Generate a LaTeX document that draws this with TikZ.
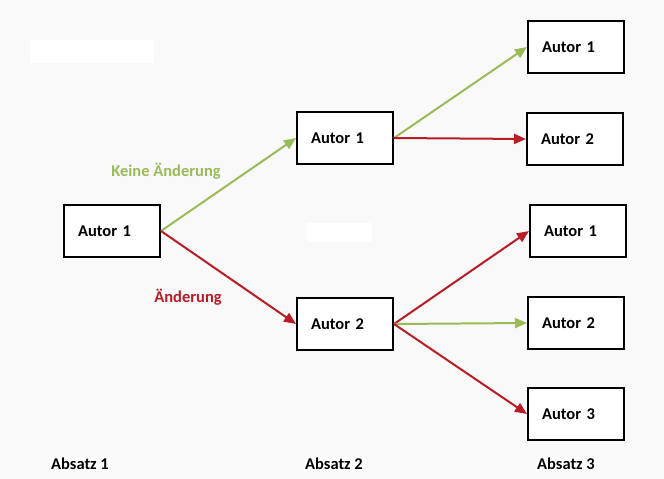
\documentclass[tikz,border=0pt]{standalone}
\usepackage{fontspec}
\setmainfont{Carlito}
\usetikzlibrary{arrows.meta}
\definecolor{bgc}{HTML}{F9F9F9}
\definecolor{okgreen}{HTML}{9BBB59}
\definecolor{chred}{HTML}{B81C26}
\begin{document}
\begin{tikzpicture}[x=1pt,y=-1pt,
  autor/.style={draw=black, line width=2pt, fill=white, minimum height=52pt,
    text width=68pt, inner xsep=14pt, inner ysep=0pt, align=left, anchor=north west,
    font=\bfseries\fontsize{16.5}{19}\selectfont},
  lbl/.style={font=\bfseries\fontsize{16.5}{19}\selectfont, inner sep=1pt},
  conn/.style={line width=2pt, -{Triangle[length=12pt,width=10pt]}},
  keep/.style={conn, draw=okgreen},
  change/.style={conn, draw=chred}]
\useasboundingbox (0,0) rectangle (664,479);
\fill[bgc] (0,0) rectangle (664,479);
\fill[white] (30,40) rectangle (154,63);
\fill[white] (307,223) rectangle (372,242);

\node[autor] (a1) at (63,204) {Autor 1};
\node[autor] (b1) at (296,111) {Autor 1};
\node[autor] (b2) at (296,297) {Autor 2};
\node[autor] (c1) at (527,20) {Autor 1};
\node[autor] (c2) at (526,112) {Autor 2};
\node[autor] (c3) at (529,204) {Autor 1};
\node[autor] (c4) at (527,296) {Autor 2};
\node[autor] (c5) at (527,387) {Autor 3};

\draw[keep] (a1.east) -- (b1.west);
\draw[change] (a1.east) -- (b2.west);
\draw[keep] (b1.east) -- (c1.west);
\draw[change] (b1.east) -- (c2.west);
\draw[change] (b2.east) -- (c3.west);
\draw[keep] (b2.east) -- (c4.west);
\draw[change] (b2.east) -- (c5.west);

\node[lbl, text=okgreen] (lk) at (166,171) {Keine Änderung};
\node[lbl, text=chred] (lc) at (188,297) {Änderung};
\node[lbl, fill=white] (p1) at (80,464) {Absatz 1};
\node[lbl, fill=white] (p2) at (334,464) {Absatz 2};
\node[lbl, fill=white] (p3) at (566,464) {Absatz 3};
\end{tikzpicture}
\end{document}
